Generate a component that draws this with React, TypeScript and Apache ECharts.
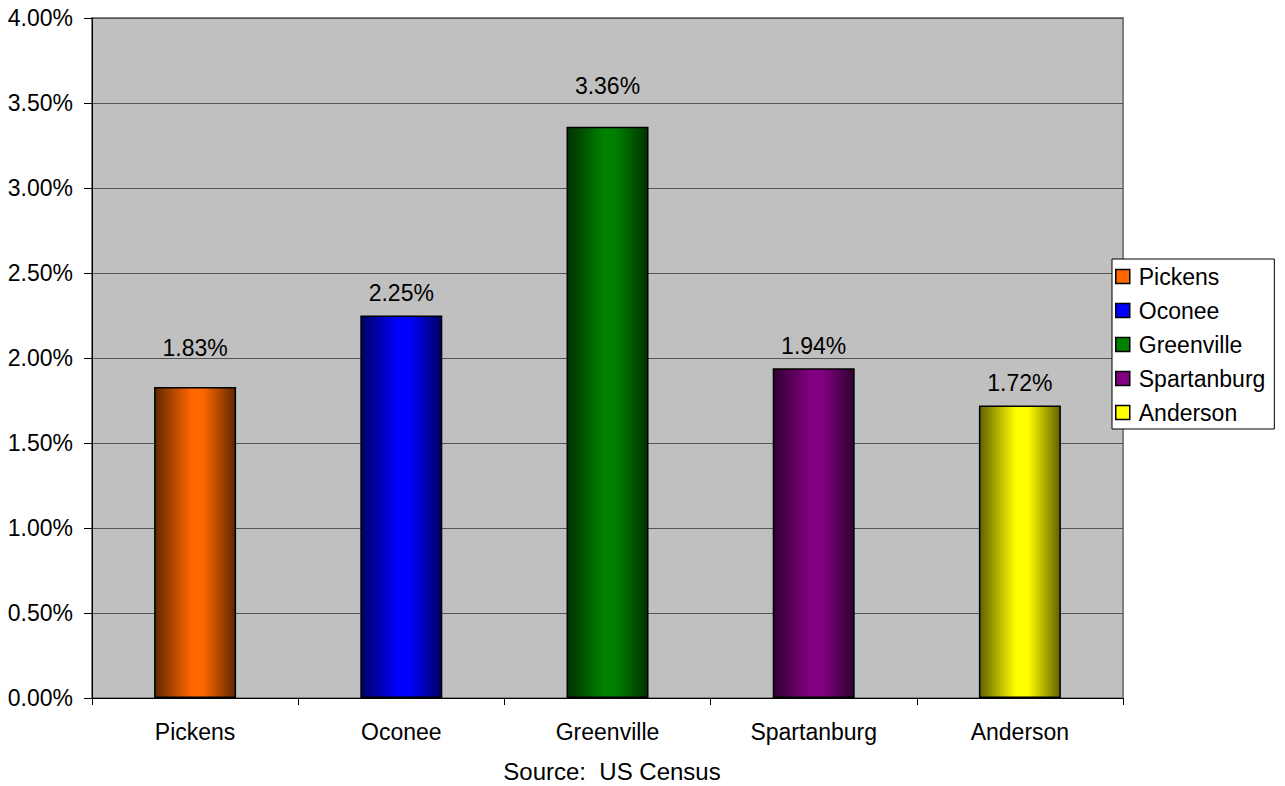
import React, { useEffect, useRef } from "react";
import * as echarts from "echarts";

// Counties and their values (percent)
const counties = ["Pickens", "Oconee", "Greenville", "Spartanburg", "Anderson"];
const values = [1.83, 2.25, 3.36, 1.94, 1.72];
const yTicks = [0, 0.5, 1, 1.5, 2, 2.5, 3, 3.5, 4];
const sourceNote = "Source:  US Census";

const FONT = "'Liberation Sans', Arial, sans-serif";

const baseColors = ["#FF6600", "#0000FF", "#008000", "#800080", "#FFFF00"];

function shade(hex: string, f: number): string {
  const n = parseInt(hex.slice(1), 16);
  const r = Math.round(((n >> 16) & 255) * f);
  const g = Math.round(((n >> 8) & 255) * f);
  const b = Math.round((n & 255) * f);
  return `rgb(${r},${g},${b})`;
}

function barGradient(hex: string) {
  return new echarts.graphic.LinearGradient(0, 0, 1, 0, [
    { offset: 0, color: shade(hex, 0.38) },
    { offset: 0.45, color: hex },
    { offset: 0.6, color: hex },
    { offset: 1, color: shade(hex, 0.38) },
  ]);
}

export default function App() {
  const ref = useRef<HTMLDivElement>(null);

  useEffect(() => {
    document.body.style.margin = "0";
    if (!ref.current) return;
    const chart = echarts.init(ref.current, undefined, { renderer: "svg" });

    // one series per county so each gets its own legend entry; all share one slot
    const series = counties.map((name, i) => ({
      name,
      type: "bar",
      barWidth: 82,
      barGap: "-100%",
      data: values.map((v, j) =>
        j === i
          ? {
              value: v,
              label: { distance: name === "Pickens" ? 27 : name === "Greenville" ? 29 : 11 },
            }
          : "-"
      ),
      itemStyle: {
        color: barGradient(baseColors[i]),
        borderColor: "#000",
        borderWidth: 1.5,
      },
      label: {
        show: true,
        position: "top",
        color: "#000",
        fontFamily: FONT,
        fontSize: 23,
        formatter: (p: any) => `${Number(p.value).toFixed(2)}%`,
      },
    }));

    chart.setOption({
      animation: false,
      backgroundColor: "#fff",
      textStyle: { fontFamily: FONT },
      grid: {
        left: 92,
        top: 18,
        right: 162,
        bottom: 88,
        show: true,
        backgroundColor: "#C0C0C0",
        borderColor: "#808080",
        borderWidth: 2,
      },
      legend: {
        orient: "vertical",
        left: 1112,
        top: 259,
        padding: [6, 9, 5, 3],
        itemGap: 11,
        itemWidth: 14,
        itemHeight: 14,
        backgroundColor: "#fff",
        borderColor: "#000",
        borderWidth: 1,
        borderRadius: 0,
        selectedMode: false,
        textStyle: { fontFamily: FONT, fontSize: 23, color: "#000", padding: [0, 0, 0, 4] },
        data: counties.map((name, i) => ({
          name,
          icon: "rect",
          itemStyle: { color: baseColors[i], borderColor: "#000", borderWidth: 1.5 },
        })),
      },
      xAxis: {
        type: "category",
        data: counties,
        boundaryGap: true,
        axisLine: { show: true, lineStyle: { color: "#000", width: 1 } },
        axisTick: { show: true, length: 7, lineStyle: { color: "#000" } },
        axisLabel: { color: "#000", fontFamily: FONT, fontSize: 23, margin: 22 },
        splitLine: { show: false },
      },
      yAxis: {
        type: "value",
        min: yTicks[0],
        max: yTicks[yTicks.length - 1],
        interval: yTicks[1] - yTicks[0],
        axisLine: { show: true, lineStyle: { color: "#000", width: 1 } },
        axisTick: { show: true, length: 8, lineStyle: { color: "#000" } },
        axisLabel: {
          color: "#000",
          fontFamily: FONT,
          fontSize: 23,
          margin: 19,
          formatter: (v: number) => `${v.toFixed(2)}%`,
        },
        splitLine: { show: true, lineStyle: { color: "#555", width: 1 } },
      },
      graphic: [
        {
          type: "text",
          x: 612,
          y: 771,
          style: {
            text: sourceNote,
            fill: "#000",
            font: `24px ${FONT}`,
            align: "center",
            verticalAlign: "middle",
          },
        },
      ],
      series,
    });

    return () => chart.dispose();
  }, []);

  return <div ref={ref} style={{ width: 1285, height: 786 }} />;
}
